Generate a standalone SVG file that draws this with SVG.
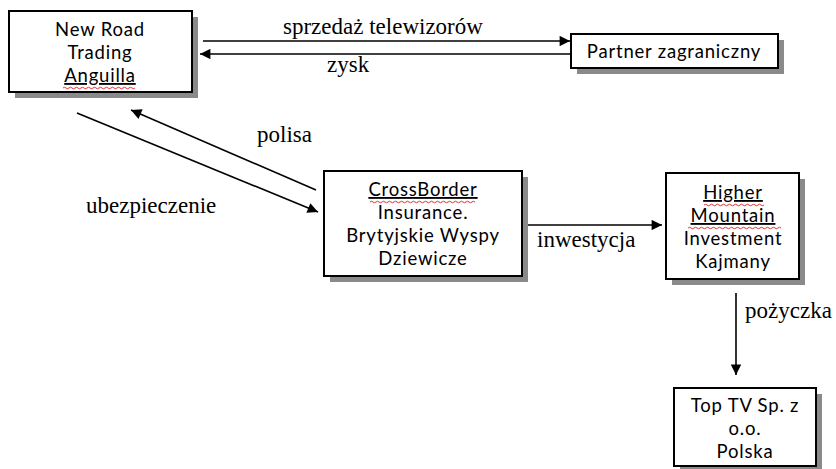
<svg xmlns="http://www.w3.org/2000/svg" width="836" height="469" viewBox="0 0 836 469">
  <style>
    .shadow { fill: #8a8a8a; }
    .box { fill: #ffffff; stroke: #000000; stroke-width: 2; }
    .node-text { font-family: Lato, "Open Sans", "Liberation Sans", sans-serif; font-size: 18.5px; letter-spacing: 0.8px; fill: #000000; text-anchor: middle; }
    .ul { text-decoration: underline; }
    .squiggle { fill: none; stroke: #e03030; stroke-width: 1; }
    .edge { stroke: #000000; stroke-width: 1.6; fill: none; marker-end: url(#arrow); }
    .edge-label { font-family: "Liberation Serif", "Times New Roman", serif; font-size: 23px; fill: #000000; }
  </style>
  <defs>
    <marker id="arrow" viewBox="0 0 10 10" refX="10" refY="5" markerWidth="7.5" markerHeight="6.5" orient="auto" markerUnits="strokeWidth">
      <path d="M0,0 L10,5 L0,10 Z" fill="#000000"/>
    </marker>
  </defs>
  <rect width="836" height="469" fill="#ffffff"/>

  <!-- connectors -->
  <g id="connectors">
    <line class="edge" x1="203" y1="41" x2="570" y2="41"/>
    <text class="edge-label" x="283" y="34">sprzedaż telewizorów</text>
    <line class="edge" x1="571" y1="54" x2="200" y2="54"/>
    <text class="edge-label" x="327" y="72">zysk</text>
    <line class="edge" x1="316" y1="190" x2="131" y2="110"/>
    <text class="edge-label" x="257" y="142">polisa</text>
    <line class="edge" x1="77" y1="113" x2="318" y2="212"/>
    <text class="edge-label" x="86" y="213">ubezpieczenie</text>
    <line class="edge" x1="526" y1="225" x2="662" y2="225"/>
    <text class="edge-label" x="537" y="247">inwestycja</text>
    <line class="edge" x1="736" y1="293" x2="736" y2="375"/>
    <text class="edge-label" x="745" y="318">pożyczka</text>
  </g>

  <!-- New Road Trading Anguilla -->
  <g id="new-road">
    <rect class="shadow" x="15" y="17" width="183" height="81"/>
    <rect class="box" x="9" y="11" width="183" height="81"/>
    <text class="node-text" x="100" y="36">New Road</text>
    <text class="node-text" x="100" y="59">Trading</text>
    <text class="node-text ul" x="100" y="82">Anguilla</text>
    <path class="squiggle" d="M63,88 q1.5,-1.5 3,0 t3,0 t3,0 t3,0 t3,0 t3,0 t3,0 t3,0 t3,0 t3,0 t3,0 t3,0 t3,0 t3,0 t3,0 t3,0 t3,0 t3,0 t3,0 t3,0 t3,0 t3,0 t3,0 t3,0"/>
  </g>

  <!-- Partner zagraniczny -->
  <g id="partner">
    <rect class="shadow" x="577" y="40" width="207" height="34"/>
    <rect class="box" x="571" y="34" width="207" height="34"/>
    <text class="node-text" x="674" y="58">Partner zagraniczny</text>
  </g>

  <!-- CrossBorder Insurance -->
  <g id="crossborder">
    <rect class="shadow" x="330" y="177" width="198" height="105"/>
    <rect class="box" x="324" y="171" width="198" height="105"/>
    <text class="node-text ul" x="423" y="196">CrossBorder</text>
    <path class="squiggle" d="M370,202 q1.5,-1.5 3,0 t3,0 t3,0 t3,0 t3,0 t3,0 t3,0 t3,0 t3,0 t3,0 t3,0 t3,0 t3,0 t3,0 t3,0 t3,0 t3,0 t3,0 t3,0 t3,0 t3,0 t3,0 t3,0 t3,0 t3,0 t3,0 t3,0 t3,0 t3,0 t3,0 t3,0 t3,0 t3,0 t3,0 t3,0"/>
    <text class="node-text" x="423" y="219">Insurance.</text>
    <text class="node-text" x="423" y="242">Brytyjskie Wyspy</text>
    <text class="node-text" x="423" y="265">Dziewicze</text>
  </g>

  <!-- Higher Mountain Investment -->
  <g id="higher-mountain">
    <rect class="shadow" x="672" y="179" width="133" height="106"/>
    <rect class="box" x="666" y="173" width="133" height="106"/>
    <text class="node-text ul" x="733" y="199">Higher</text>
    <path class="squiggle" d="M704,205 q1.5,-1.5 3,0 t3,0 t3,0 t3,0 t3,0 t3,0 t3,0 t3,0 t3,0 t3,0 t3,0 t3,0 t3,0 t3,0 t3,0 t3,0 t3,0 t3,0 t3,0 t3,0"/>
    <text class="node-text ul" x="733" y="222">Mountain</text>
    <path class="squiggle" d="M688,228 q1.5,-1.5 3,0 t3,0 t3,0 t3,0 t3,0 t3,0 t3,0 t3,0 t3,0 t3,0 t3,0 t3,0 t3,0 t3,0 t3,0 t3,0 t3,0 t3,0 t3,0 t3,0 t3,0 t3,0 t3,0 t3,0 t3,0 t3,0 t3,0 t3,0 t3,0 t3,0 t3,0"/>
    <text class="node-text" x="733" y="245">Investment</text>
    <text class="node-text" x="733" y="268">Kajmany</text>
  </g>

  <!-- Top TV -->
  <g id="top-tv">
    <rect class="shadow" x="680" y="394" width="142" height="79"/>
    <rect class="box" x="674" y="388" width="142" height="78"/>
    <text class="node-text" x="745" y="412">Top TV Sp. z</text>
    <text class="node-text" x="745" y="435">o.o.</text>
    <text class="node-text" x="745" y="458">Polska</text>
  </g>
</svg>
